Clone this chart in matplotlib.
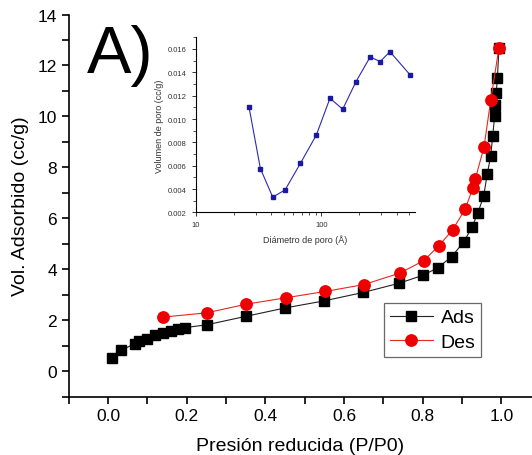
import matplotlib
matplotlib.use("Agg")
import matplotlib.pyplot as plt
from matplotlib.ticker import MultipleLocator, LogLocator, NullFormatter, FixedLocator

plt.rcParams['font.family'] = ['Liberation Sans', 'DejaVu Sans']

# Isotherm: adsorption branch
p_ads = [0.009, 0.033, 0.069, 0.080, 0.098, 0.119, 0.139, 0.160, 0.179, 0.197,
         0.251, 0.350, 0.450, 0.550, 0.649, 0.740, 0.800, 0.839, 0.874, 0.905,
         0.926, 0.940, 0.955, 0.964, 0.973, 0.978, 0.983, 0.985, 0.987, 0.990, 0.994]
v_ads = [0.53, 0.82, 1.08, 1.17, 1.27, 1.40, 1.51, 1.58, 1.67, 1.71,
         1.82, 2.15, 2.48, 2.76, 3.09, 3.45, 3.76, 4.06, 4.50, 5.08,
         5.67, 6.20, 6.86, 7.72, 8.45, 9.22, 10.00, 10.44, 10.92, 11.50, 12.69]

# Isotherm: desorption branch
p_des = [0.139, 0.251, 0.352, 0.452, 0.553, 0.651, 0.742, 0.803, 0.841, 0.876,
         0.908, 0.928, 0.934, 0.956, 0.973, 0.994]
v_des = [2.12, 2.29, 2.63, 2.88, 3.13, 3.40, 3.85, 4.34, 4.92, 5.54,
         6.36, 7.20, 7.55, 8.80, 10.63, 12.69]

# Pore size distribution
pore_d = [26.5, 32.7, 41.0, 51.5, 68.2, 91.2, 117.2, 148, 189, 245, 294, 352, 508]
pore_v = [0.01107, 0.00576, 0.00331, 0.00393, 0.00621, 0.00862, 0.01178,
          0.01084, 0.01321, 0.01532, 0.01492, 0.01577, 0.0138]

fig = plt.figure(figsize=(5.32, 4.56), dpi=100)
ax = fig.add_axes([0.129, 0.128, 0.871, 0.838])

ax.plot(p_ads, v_ads, color='#222222', lw=0.8, marker='s', ms=7.2,
        mfc='black', mec='black', label='Ads', zorder=3)
ax.plot(p_des, v_des, color='#e8281e', lw=0.8, marker='o', ms=8.2,
        mfc='#ee0000', mec='#ee0000', label='Des', zorder=4)

ax.set_xlim(-0.1, 1.078)
ax.set_ylim(-1, 14)
ax.xaxis.set_major_locator(FixedLocator([0.0, 0.2, 0.4, 0.6, 0.8, 1.0]))
ax.xaxis.set_minor_locator(FixedLocator([-0.1, 0.1, 0.3, 0.5, 0.7, 0.9]))
ax.yaxis.set_major_locator(MultipleLocator(2))
ax.yaxis.set_minor_locator(MultipleLocator(1))
ax.xaxis.set_major_formatter(matplotlib.ticker.FormatStrFormatter('%.1f'))
for s in ['top', 'right']:
    ax.spines[s].set_visible(False)
for s in ['left', 'bottom']:
    ax.spines[s].set_linewidth(1.2)
ax.tick_params(which='both', direction='out', length=5, width=1.2, labelsize=12.5)
ax.set_xlabel('Presión reducida (P/P0)', fontsize=14, labelpad=10)
ax.set_ylabel('Vol. Adsorbido (cc/g)', fontsize=14, labelpad=6)

leg = ax.legend(loc='upper left', bbox_to_anchor=(0.681, 0.245), fontsize=14,
                frameon=True, fancybox=False, edgecolor='#444444',
                handlelength=2.2, borderpad=0.3, labelspacing=0.35,
                handletextpad=0.4, borderaxespad=0)
leg.get_frame().set_linewidth(0.9)

ax.text(0.04, 0.975, 'A)', transform=ax.transAxes, fontsize=48,
        ha='left', va='top')

# Inset: pore size distribution
ins = fig.add_axes([0.368, 0.532, 0.412, 0.384])
ins.plot(pore_d, pore_v, color='#2b2bb0', lw=0.8, marker='s', ms=3.2,
         mfc='#1a1aa0', mec='#1a1aa0')
ins.set_xscale('log')
ins.set_xlim(10, 557)
ins.set_ylim(0.002, 0.017)
ins.yaxis.set_major_locator(MultipleLocator(0.002))
ins.yaxis.set_minor_locator(MultipleLocator(0.001))
ins.yaxis.set_major_formatter(matplotlib.ticker.FormatStrFormatter('%.3f'))
ins.xaxis.set_major_locator(LogLocator(base=10))
ins.xaxis.set_minor_locator(LogLocator(base=10, subs=range(2, 10)))
ins.xaxis.set_minor_formatter(NullFormatter())
ins.xaxis.set_major_formatter(matplotlib.ticker.FuncFormatter(lambda v, p: f'{v:g}'))
for s in ['top', 'right']:
    ins.spines[s].set_visible(False)
for s in ['left', 'bottom']:
    ins.spines[s].set_linewidth(0.8)
ins.tick_params(which='major', direction='out', length=3, width=0.7,
                labelsize=5.5, colors='#333333')
ins.tick_params(which='minor', direction='out', length=2, width=0.6,
                colors='#333333')
ins.set_xlabel('Diámetro de poro (Å)', fontsize=6.5, color='#333333', labelpad=4)
ins.set_ylabel('Volumen de poro (cc/g)', fontsize=6.5, color='#333333', labelpad=3)
ins.patch.set_alpha(0)

fig.savefig('out.png', dpi=100)
